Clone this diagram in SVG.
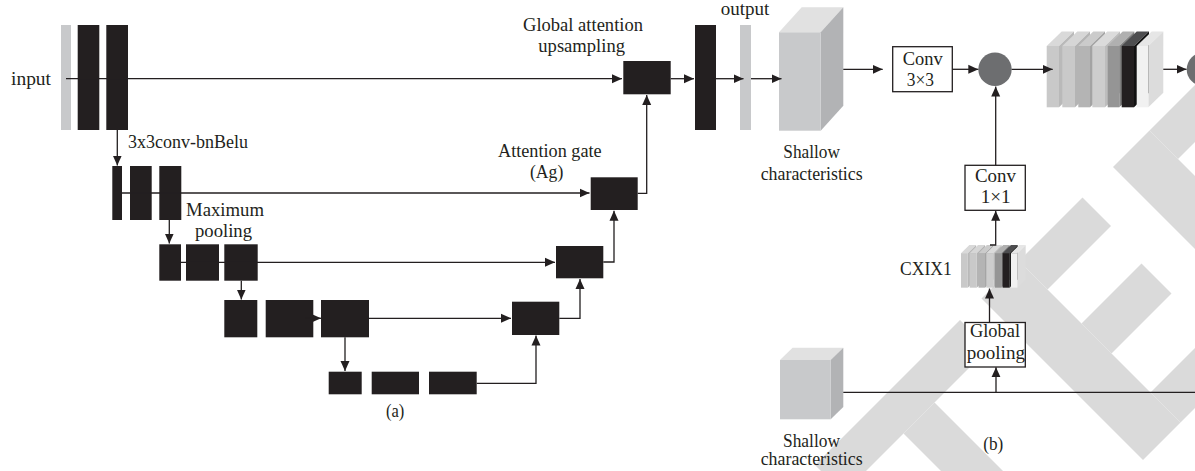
<svg xmlns="http://www.w3.org/2000/svg" xmlns:xlink="http://www.w3.org/1999/xlink" width="1195" height="471" viewBox="0 0 1195 471">
<style>
text{font-family:"Liberation Serif","Times New Roman",serif;font-size:18px;fill:#231f20}
.blk{fill:#231f20}
.gbar{fill:#c8c9cb}
.ln{fill:none;stroke:#231f20;stroke-width:1.3}
.arr{marker-end:url(#ah)}
.box{fill:#fff;stroke:#231f20;stroke-width:1.3}
.wm{fill:#dadada}
</style>
<defs>
<marker id="ah" markerUnits="userSpaceOnUse" markerWidth="10" markerHeight="10" refX="10" refY="5" orient="auto">
<path d="M0,0.5 L10,5 L0,9.5 Z" fill="#231f20"/>
</marker>
<g id="stack">
<path d="M0,14.5 L15,0 L27.3,0 L12.3,14.5Z" fill="#d9d9d9"/><path d="M12.3,14.5 L27.3,0 L27.3,61.3 L12.3,75.8Z" fill="#b9b9b9"/><rect x="0" y="14.5" width="12.3" height="61.3" fill="#c9c9c9"/>
<path d="M15.6,14.5 L30.6,0 L43.3,0 L28.3,14.5Z" fill="#d6d6d6"/><path d="M28.3,14.5 L43.3,0 L43.3,61.3 L28.3,75.8Z" fill="#b4b4b4"/><rect x="15.6" y="14.5" width="12.7" height="61.3" fill="#c9c9c9"/>
<path d="M31.6,14.5 L46.6,0 L58.3,0 L43.3,14.5Z" fill="#cbcbcb"/><path d="M43.3,14.5 L58.3,0 L58.3,61.3 L43.3,75.8Z" fill="#a3a3a3"/><rect x="31.6" y="14.5" width="11.7" height="61.3" fill="#b4b4b4"/>
<path d="M45.6,14.5 L60.6,0 L73.3,0 L58.3,14.5Z" fill="#dbdbdb"/><path d="M58.3,14.5 L73.3,0 L73.3,61.3 L58.3,75.8Z" fill="#bdbdbd"/><rect x="45.6" y="14.5" width="12.7" height="61.3" fill="#cdcdcd"/>
<path d="M61,14.5 L76,0 L87.6,0 L72.6,14.5Z" fill="#b0b0b0"/><path d="M72.6,14.5 L87.6,0 L87.6,61.3 L72.6,75.8Z" fill="#7f7f7f"/><rect x="61" y="14.5" width="11.6" height="61.3" fill="#959595"/>
<path d="M75,14.5 L90,0 L102.3,0 L87.3,14.5Z" fill="#4d4d4f"/><path d="M87.3,14.5 L102.3,0 L102.3,61.3 L87.3,75.8Z" fill="#111"/><rect x="75" y="14.5" width="12.3" height="61.3" fill="#231f20"/>
<path d="M90,14.5 L105,0 L116.6,0 L101.6,14.5Z" fill="#e6e6e6"/><path d="M101.6,14.5 L116.6,0 L116.6,61.3 L101.6,75.8Z" fill="#dcdcdc"/><rect x="90" y="14.5" width="11.6" height="61.3" fill="#f1f1f1"/>
</g>
</defs>
<rect width="1195" height="471" fill="#fff"/>
<g id="watermark">
<polygon class="wm" points="815,465 960,320 988.5,348.5 843.5,493.5"/>
<polygon class="wm" points="903.5,433.5 934.5,402.5 1067.5,535.5 1036.5,566.5"/>
<polygon class="wm" points="981.5,298.5 1019,261 1180.5,422.5 1143,460"/>
<polygon class="wm" points="1019,261 1082.5,197.5 1111,226 1047.5,289.5"/>
<polygon class="wm" points="1081.5,323.5 1141.5,263.5 1171.5,293.5 1111.5,353.5"/>
<polygon class="wm" points="1150.5,392.5 1216.5,326.5 1246.5,356.5 1180.5,422.5"/>
<polygon class="wm" points="1113,167 1149.5,130.5 1300,281 1300,354"/>
<polygon class="wm" points="1149.5,130.5 1250,30 1250,87 1178,159"/>
</g>
<g id="enc1"><rect class="gbar" x="61" y="25" width="10" height="105"/><rect class="blk" x="77.7" y="25" width="21.6" height="105"/><rect class="blk" x="106.3" y="25" width="21.7" height="105"/></g>
<g id="enc2"><rect class="blk" x="112.3" y="166" width="9.7" height="54"/><rect class="blk" x="130" y="166" width="21.7" height="54"/><rect class="blk" x="159.3" y="166" width="22" height="54"/></g>
<g id="enc3"><rect class="blk" x="159.3" y="244.3" width="21.7" height="36.4"/><rect class="blk" x="186" y="244.3" width="33" height="36.4"/><rect class="blk" x="224.3" y="244.3" width="33.4" height="36.4"/></g>
<g id="enc4"><rect class="blk" x="224.3" y="300" width="33" height="37.3"/><rect class="blk" x="265.7" y="300" width="47.6" height="37.3"/><rect class="blk" x="321" y="300" width="48" height="37.3"/></g>
<g id="enc5"><rect class="blk" x="328.7" y="371.7" width="33" height="22.6"/><rect class="blk" x="371.7" y="371.7" width="47.3" height="22.6"/><rect class="blk" x="429" y="371.7" width="47.7" height="22.6"/></g>
<g id="ag-top"><rect class="blk" x="623.3" y="61" width="47.4" height="33.3"/></g>
<g id="ag1"><rect class="blk" x="590.7" y="177.3" width="47" height="32.7"/></g>
<g id="ag2"><rect class="blk" x="556" y="246" width="47.3" height="32.3"/></g>
<g id="ag3"><rect class="blk" x="512" y="301.7" width="47.3" height="33.3"/></g>
<g id="dec-out"><rect class="blk" x="695" y="25" width="21" height="105"/></g>
<g id="output"><rect class="gbar" x="740" y="25" width="11" height="105"/></g>
<g id="shallow-top">
<path d="M779,32.3 L801.7,7.3 L843.3,7.3 L820.7,32.3Z" fill="#e1e1e1"/>
<path d="M820.7,32.3 L843.3,7.3 L843.3,105.7 L820.7,130.7Z" fill="#b2b3b5"/>
<rect x="779" y="32.3" width="41.7" height="98.4" fill="#c8c9cb"/>
</g>
<g id="shallow-bottom">
<path d="M780,360 L792.6,347.7 L843.3,347.7 L830.7,360Z" fill="#e1e1e1"/>
<path d="M830.7,360 L843.3,347.7 L843.3,407 L830.7,419.3Z" fill="#b2b3b5"/>
<rect x="780" y="360" width="50.7" height="59.3" fill="#c8c9cb"/>
</g>
<g id="conv3"><rect class="box" x="892.7" y="46.7" width="59.6" height="45"/></g>
<g id="sum1"><circle cx="995" cy="69.3" r="16.7" fill="#6d6e70"/></g>
<g id="features"><use xlink:href="#stack" transform="translate(1046.7,31.5)"/></g>
<g id="sum2"><circle cx="1203.4" cy="69.3" r="16.7" fill="#6d6e70"/></g>
<g id="conv1"><rect class="box" x="965" y="165.3" width="60.3" height="45"/></g>
<g id="cxix1"><use xlink:href="#stack" transform="translate(961,245) scale(0.555,0.563)"/></g>
<g id="gpool"><rect class="box" x="965" y="322.5" width="60.3" height="44.5"/></g>
<g id="connectors">
<path class="ln arr" d="M66,78.7 H622"/>
<path class="ln arr" d="M117.3,130 V165.5"/>
<path class="ln arr" d="M122,193 H589.5"/>
<path class="ln arr" d="M169.3,220 V243.5"/>
<path class="ln arr" d="M181,262.3 H555"/>
<path class="ln arr" d="M241.3,280.7 V299.5"/>
<path class="ln arr" d="M305,318.3 H321"/>
<path class="ln arr" d="M369,318.3 H511"/>
<path class="ln arr" d="M345,337.3 V371"/>
<path class="ln arr" d="M476.7,383.3 H536 V335.5"/>
<path class="ln arr" d="M559.3,318.3 H580 V279"/>
<path class="ln arr" d="M603.3,262 H614 V210.7"/>
<path class="ln arr" d="M637.7,193.3 H646.7 V95"/>
<path class="ln arr" d="M670.7,78.7 H694"/>
<path class="ln arr" d="M716,78.7 H743.5"/>
<path class="ln arr" d="M751,78.7 H781.5"/>
<path class="ln arr" d="M843.3,69.3 H882.7"/>
<path class="ln arr" d="M952.3,69.3 H978.3"/>
<path class="ln arr" d="M1011.7,69.3 H1052.7"/>
<path class="ln arr" d="M1163.3,69.3 H1186.5"/>
<path class="ln arr" d="M995.7,165.3 V86.5"/>
<path class="ln arr" d="M990,245 H995.7 V210.8"/>
<path class="ln arr" d="M989.5,322.5 V288.5"/>
<path class="ln" d="M843.3,392.3 H1195"/>
<path class="ln arr" d="M996,392.3 V367.2"/>
</g>
<g id="labels">
<text x="11" y="85" textLength="40" lengthAdjust="spacingAndGlyphs">input</text>
<text x="128" y="148" textLength="120" lengthAdjust="spacingAndGlyphs">3x3conv-bnBelu</text>
<text x="186" y="215.5" textLength="78" lengthAdjust="spacingAndGlyphs">Maximum</text>
<text x="195" y="237" textLength="57" lengthAdjust="spacingAndGlyphs">pooling</text>
<text x="523" y="31.3" textLength="120" lengthAdjust="spacingAndGlyphs">Global attention</text>
<text x="538.3" y="52" textLength="86.7" lengthAdjust="spacingAndGlyphs">upsampling</text>
<text x="720.7" y="15" textLength="48.6" lengthAdjust="spacingAndGlyphs">output</text>
<text x="498" y="156.5" textLength="103.7" lengthAdjust="spacingAndGlyphs">Attention gate</text>
<text x="530" y="178" textLength="33.3" lengthAdjust="spacingAndGlyphs">(Ag)</text>
<text x="386" y="416.5" textLength="18.3" lengthAdjust="spacingAndGlyphs">(a)</text>
<text x="783.3" y="158.3" textLength="56.7" lengthAdjust="spacingAndGlyphs">Shallow</text>
<text x="760.7" y="180" textLength="102" lengthAdjust="spacingAndGlyphs">characteristics</text>
<text x="902.7" y="65" textLength="40" lengthAdjust="spacingAndGlyphs">Conv</text>
<text x="906.7" y="86" textLength="27.3" lengthAdjust="spacingAndGlyphs">3×3</text>
<text x="975" y="181.7" textLength="41" lengthAdjust="spacingAndGlyphs">Conv</text>
<text x="980.7" y="203.3" textLength="30" lengthAdjust="spacingAndGlyphs">1×1</text>
<text x="900" y="275" textLength="51.7" lengthAdjust="spacingAndGlyphs">CXIX1</text>
<text x="970" y="337" textLength="50" lengthAdjust="spacingAndGlyphs">Global</text>
<text x="966.7" y="358.5" textLength="58.3" lengthAdjust="spacingAndGlyphs">pooling</text>
<text x="983.3" y="450" textLength="20" lengthAdjust="spacingAndGlyphs">(b)</text>
<text x="783" y="446.7" textLength="57" lengthAdjust="spacingAndGlyphs">Shallow</text>
<text x="760.7" y="465" textLength="102" lengthAdjust="spacingAndGlyphs">characteristics</text>
</g>
</svg>
